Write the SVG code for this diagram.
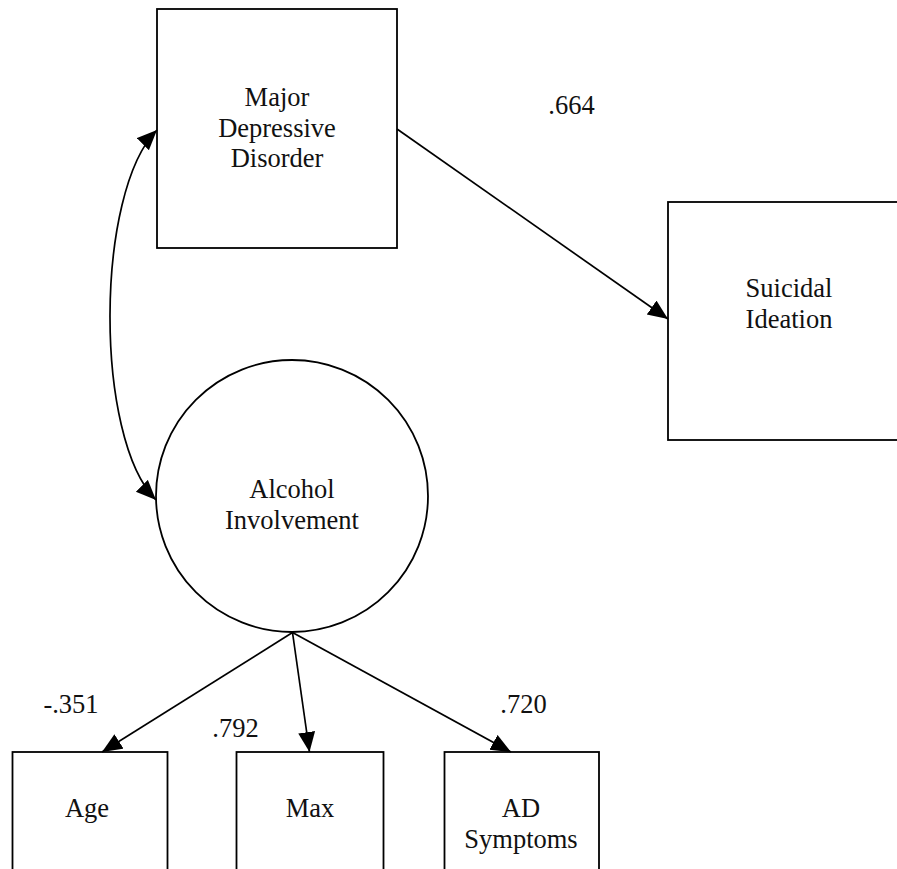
<svg xmlns="http://www.w3.org/2000/svg" width="897" height="869" viewBox="0 0 897 869">
<defs>
<style>
.box{fill:#fff;stroke:#000;stroke-width:1.8}
.lbl{font-family:"Liberation Serif","Times New Roman",serif;font-size:26.5px;fill:#111;text-anchor:middle}
.conn{fill:none;stroke:#000;stroke-width:1.7}
</style>
<marker id="ah" markerUnits="userSpaceOnUse" markerWidth="21" markerHeight="18" refX="20" refY="8.5" orient="auto-start-reverse" viewBox="0 0 21 18">
<path d="M0,0 L20,8.5 L0,17 z" fill="#000"/>
</marker>
</defs>
<rect width="897" height="869" fill="#fff"/>
<g id="mdd">
<rect class="box" x="157" y="9" width="240" height="239"/>
<text class="lbl" x="277" y="106">Major</text>
<text class="lbl" x="277" y="137">Depressive</text>
<text class="lbl" x="277" y="167">Disorder</text>
</g>
<g id="si">
<rect class="box" x="668" y="202" width="242" height="238"/>
<text class="lbl" x="789" y="297">Suicidal</text>
<text class="lbl" x="789" y="328">Ideation</text>
</g>
<g id="alc">
<circle class="box" cx="292" cy="496" r="136"/>
<text class="lbl" x="292" y="498">Alcohol</text>
<text class="lbl" x="292" y="529">Involvement</text>
</g>
<g id="age">
<rect class="box" x="12.5" y="752" width="155" height="130"/>
<text class="lbl" x="87" y="817">Age</text>
</g>
<g id="max">
<rect class="box" x="236.5" y="752" width="147" height="130"/>
<text class="lbl" x="310" y="817">Max</text>
</g>
<g id="ad">
<rect class="box" x="444.5" y="752" width="154.5" height="130"/>
<text class="lbl" x="521" y="817">AD</text>
<text class="lbl" x="521" y="848">Symptoms</text>
</g>
<g id="connectors">
<path class="conn" d="M157,130 C95,192 94,438 156,500" marker-start="url(#ah)" marker-end="url(#ah)"/>
<line class="conn" x1="397" y1="129" x2="668" y2="319" marker-end="url(#ah)"/>
<line class="conn" x1="292.5" y1="632.5" x2="102" y2="752" marker-end="url(#ah)"/>
<line class="conn" x1="292.5" y1="632.5" x2="309.5" y2="752" marker-end="url(#ah)"/>
<line class="conn" x1="292.5" y1="632.5" x2="511" y2="752" marker-end="url(#ah)"/>
</g>
<g id="labels">
<text class="lbl" x="571.5" y="114">.664</text>
<text class="lbl" x="71" y="713">-.351</text>
<text class="lbl" x="235.5" y="737">.792</text>
<text class="lbl" x="523.5" y="713">.720</text>
</g>
</svg>
